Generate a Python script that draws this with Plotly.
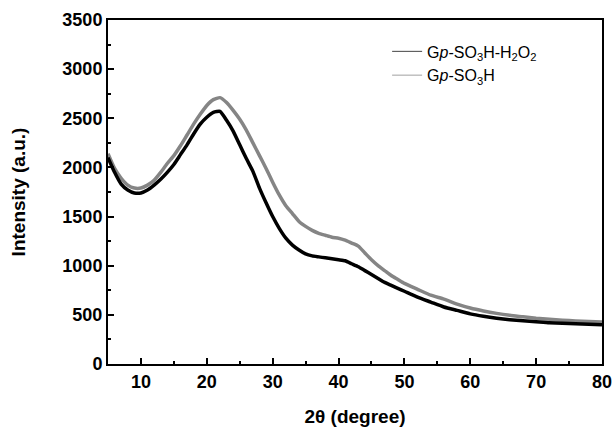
import plotly.graph_objects as go

two_theta = [5, 6, 7, 8, 9, 10, 11, 12, 13, 14, 15, 16, 17, 18, 19, 20, 21, 22, 23, 24,
             25, 26, 27, 28, 29, 30, 31, 32, 33, 34, 35, 36, 37, 38, 39, 40, 41, 42, 43, 44,
             45, 46, 47, 48, 49, 50, 52, 54, 56, 58, 60, 62, 64, 66, 68, 70, 72, 74, 76, 78, 80]

gp_so3h = [2140, 1990, 1890, 1820, 1790, 1790, 1820, 1870, 1950, 2040, 2120, 2220, 2330, 2440,
           2540, 2630, 2690, 2710, 2660, 2580, 2490, 2380, 2250, 2120, 1990, 1850, 1720, 1610,
           1530, 1450, 1400, 1360, 1330, 1310, 1290, 1280, 1260, 1230, 1200, 1130, 1060, 1000,
           950, 900, 860, 820, 760, 700, 660, 610, 570, 540, 515, 495, 480, 465, 455, 445, 438,
           432, 428]

gp_so3h_h2o2 = [2100, 1950, 1830, 1770, 1740, 1740, 1770, 1820, 1880, 1950, 2030, 2130, 2230,
                2340, 2440, 2510, 2560, 2570, 2480, 2370, 2230, 2090, 1960, 1790, 1640, 1500,
                1380, 1280, 1210, 1160, 1120, 1100, 1090, 1080, 1070, 1060, 1050, 1020, 990, 950,
                910, 870, 830, 800, 770, 740, 680, 630, 580, 545, 510, 485, 465, 450, 440, 430,
                420, 415, 410, 405, 400]

name_a = "G<i>p</i>-SO<sub>3</sub>H-H<sub>2</sub>O<sub>2</sub>"
name_b = "G<i>p</i>-SO<sub>3</sub>H"

fig = go.Figure()
fig.add_trace(go.Scatter(x=two_theta, y=gp_so3h, mode="lines", showlegend=False,
                         line=dict(color="#858585", width=3.5, shape="spline", smoothing=0.5)))
fig.add_trace(go.Scatter(x=two_theta, y=gp_so3h_h2o2, mode="lines", showlegend=False,
                         line=dict(color="#000000", width=3.5, shape="spline", smoothing=0.5)))
# legend entries (thin lines as in the reference)
fig.add_trace(go.Scatter(x=[None], y=[None], mode="lines", name=name_a,
                         line=dict(color="#444444", width=1)))
fig.add_trace(go.Scatter(x=[None], y=[None], mode="lines", name=name_b,
                         line=dict(color="#a0a0a0", width=1)))

axis_common = dict(showline=True, linecolor="black", linewidth=2, mirror=True,
                   ticks="inside", ticklen=6, tickwidth=2, tickcolor="black",
                   showgrid=False, zeroline=False, automargin=False,
                   tickfont=dict(family="Liberation Sans", size=18, color="black", weight="bold"))

title_font = dict(family="Liberation Sans", size=19, color="black", weight="bold")

fig.update_xaxes(range=[5, 80], tick0=10, dtick=10,
                 minor=dict(ticks="inside", ticklen=3, tickwidth=2, dtick=5, tick0=5, tickcolor="black"),
                 title=dict(text="2θ (degree)", standoff=21, font=title_font),
                 **axis_common)
fig.update_yaxes(range=[0, 3500], tick0=0, dtick=500,
                 minor=dict(ticks="inside", ticklen=3, tickwidth=2, dtick=250, tick0=0, tickcolor="black"),
                 title=dict(text="Intensity (a.u.)", standoff=32, font=title_font),
                 **axis_common)

fig.update_layout(
    width=615, height=427,
    margin=dict(l=108, r=13, t=20, b=63),
    paper_bgcolor="white", plot_bgcolor="white",
    legend=dict(x=0.565, y=0.958, xanchor="left", yanchor="top",
                bgcolor="rgba(0,0,0,0)",
                font=dict(family="Liberation Sans", size=16, color="black"),
                tracegroupgap=0),
)

fig.write_html("out.html")
